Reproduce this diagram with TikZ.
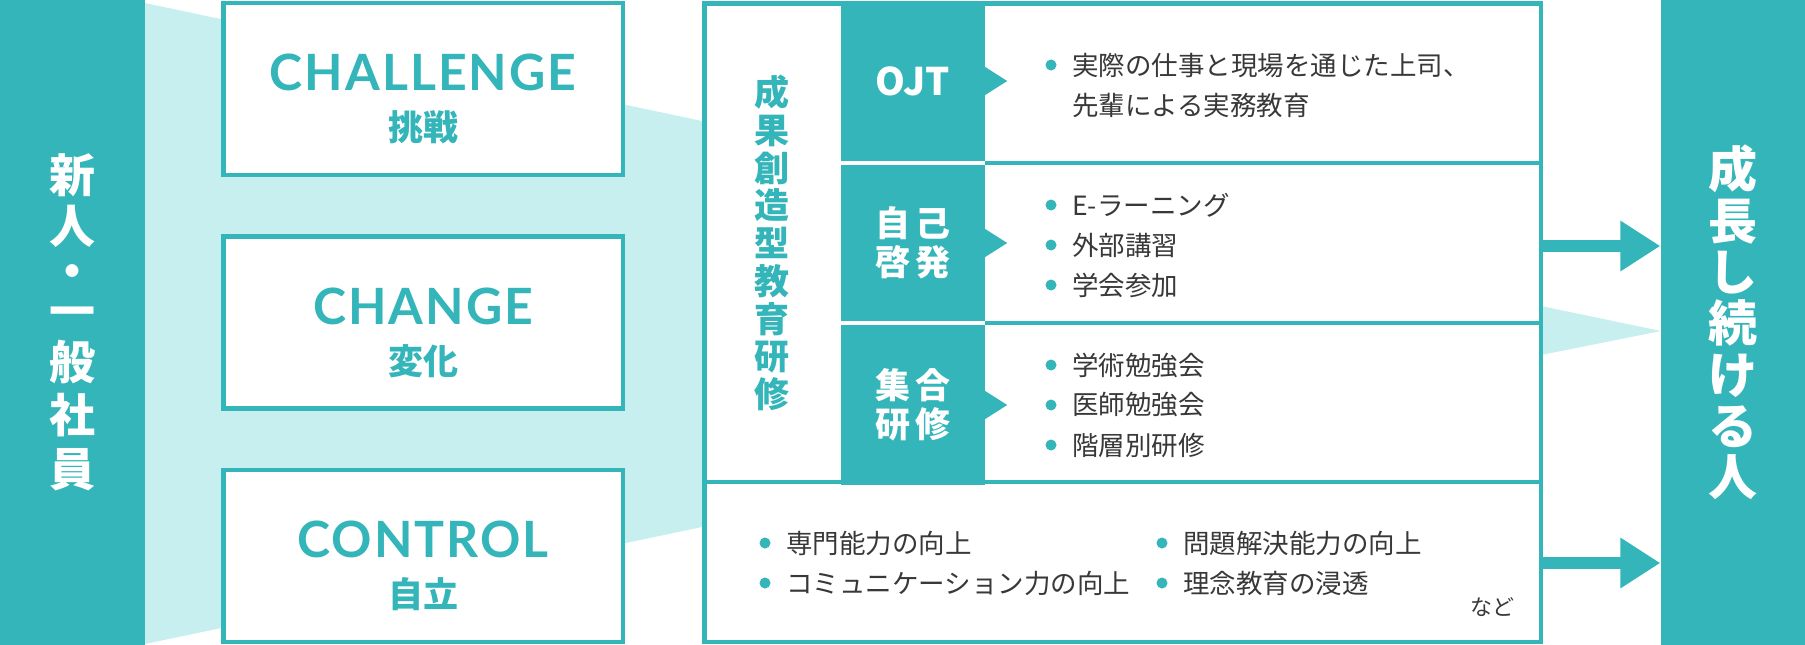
\documentclass[tikz,border=0pt]{standalone}
\usepackage{fontspec}
\setmainfont{Noto Sans CJK JP}
\newfontfamily\enfont{Lato}[LetterSpace=4]
\newfontfamily\cellfont{Noto Sans CJK JP}[LetterSpace=12]
\usepackage{xcolor}
\usepackage{tikz}
\usetikzlibrary{arrows.meta,positioning}
\definecolor{jade}{HTML}{34B5B9}
\definecolor{mist}{HTML}{C7EFEF}
\definecolor{ink}{HTML}{383838}

\begin{document}
\begin{tikzpicture}[x=1pt,y=-1pt,
  bar/.style={fill=jade,minimum width=145pt,minimum height=645pt,inner sep=0pt,text=white,align=center,
              font=\bfseries\fontsize{46}{51}\selectfont},
  way/.style={draw=jade,line width=4.5pt,fill=white,minimum width=399.5pt,minimum height=172pt,inner sep=0pt},
  en/.style={text=jade,inner sep=0pt,font=\enfont\bfseries\fontsize{50}{50}\selectfont},
  ja/.style={text=jade,inner sep=0pt,font=\bfseries\fontsize{35}{35}\selectfont},
  cell/.style={fill=jade,minimum width=144pt,minimum height=#1,inner sep=0pt,text=white,align=center,
               font=\cellfont\bfseries\fontsize{35}{39}\selectfont},
  item/.style={anchor=west,inner sep=0pt,text=ink,align=left,font=\fontsize{26.5}{40}\selectfont},
  dot/.style={fill=jade},
  flow/.style={jade,line width=12pt,-{Triangle[length=40pt,width=48pt]}}]
  \useasboundingbox (0,0) rectangle (1805,645);
  \fill[mist] (145,3) -- (702,121) -- (702,527) -- (145,644) -- cycle;
  \fill[mist] (1541,306) -- (1661,331) -- (1541,355) -- cycle;

  \node[bar] (newbie) at (72.5,322.5) {新\\人\\[-6pt]・\\[-11pt]一\\般\\[2pt]社\\[3pt]員};
  \node[bar,font=\bfseries\fontsize{49}{51.3}\selectfont] (grown) at (1733,322.5) {成\\長\\し\\続\\け\\る\\人};

  \node[way] (chal) at (423,89) {};
  \node[way] (chng) at (423,322.5) {};
  \node[way] (ctrl) at (423,556) {};
  \foreach \b/\e/\j in {chal/CHALLENGE/挑戦,chng/CHANGE/変化,ctrl/CONTROL/自立} {
    \node[en] (\b-en) at ([yshift=16.5pt]\b.center) {\e};
    \node[ja] (\b-ja) at ([yshift=-38.5pt]\b.center) {\j};
  }

  \node[draw=jade,line width=4.5pt,fill=white,minimum width=836.5pt,minimum height=638.5pt,inner sep=0pt] (prog) at (1122.5,322.5) {};
  \node[text=jade,align=center,inner sep=0pt,font=\bfseries\fontsize{35}{37.75}\selectfont] (title) at (772,243)
    {成\\果\\創\\造\\型\\教\\育\\研\\修};
  \draw[jade,line width=4pt] (985,163) -- (1541,163) (985,323) -- (1541,323) (704,482) -- (1541,482);

  \node[cell=160pt,font=\bfseries\fontsize{38}{38}\selectfont] (ojt) at (913,81) {OJT};
  \node[cell=156pt] (jiko) at (913,243) {自己\\啓発};
  \node[cell=160pt] (shugo) at (913,405) {集合\\研修};
  \foreach \c in {ojt,jiko,shugo}
    \fill[jade] ([yshift=14pt]\c.east) -- ++(22,14) -- ([yshift=-14pt]\c.east) -- cycle;

  \fill[dot] (1051,65) circle (5.5pt);
  \node[item] (ojtitem) at (1072,85) {実際の仕事と現場を通じた上司、\\先輩による実務教育};
  \foreach \y/\t [count=\i] in {205/E-ラーニング,245/外部講習,285/学会参加,365/学術勉強会,405/医師勉強会,445/階層別研修} {
    \fill[dot] (1051,\y) circle (5.5pt);
    \node[item] (item\i) at (1072,\y) {\t};
  }
  \foreach \x/\y/\t [count=\i] in {765/543/専門能力の向上,765/583/コミュニケーション力の向上,1162/543/問題解決能力の向上,1162/583/理念教育の浸透} {
    \fill[dot] (\x,\y) circle (5.5pt);
    \node[item] (goal\i) at (\x+21,\y) {\t};
  }
  \node[item,anchor=east,font=\fontsize{22}{22}\selectfont] (etc) at (1515,607) {など};

  \coordinate (upper) at (0,246);
  \coordinate (lower) at (0,563);
  \draw[flow] (prog.east |- upper) -- (grown.west |- upper);
  \draw[flow] (prog.east |- lower) -- (grown.west |- lower);
\end{tikzpicture}
\end{document}
